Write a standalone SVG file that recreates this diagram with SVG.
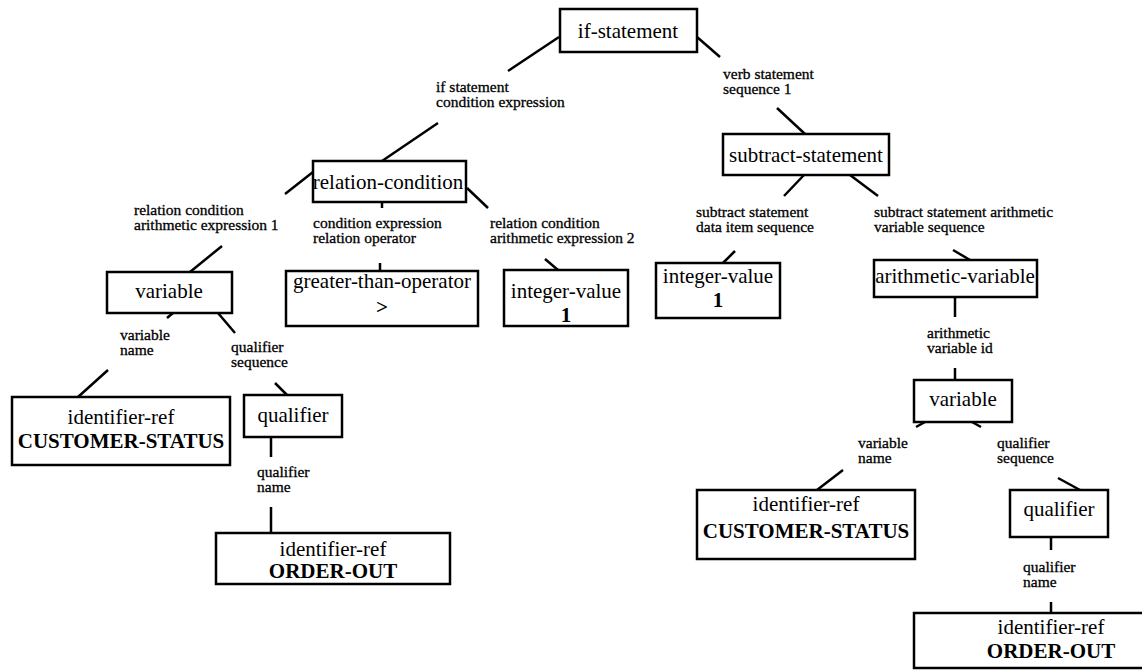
<svg xmlns="http://www.w3.org/2000/svg" width="1142" height="671" viewBox="0 0 1142 671">
<style>
  .box { fill: #fff; stroke: #000; stroke-width: 2.5; }
  .nt { font-family: "Liberation Serif", "Times New Roman", serif; font-size: 21px; text-anchor: middle; fill: #000; }
  .bv { font-weight: bold; }
  .lb { font-family: "Liberation Serif", "Times New Roman", serif; font-size: 15.5px; fill: #000; stroke: #000; stroke-width: 0.3; }
  #connectors line { stroke: #000; stroke-width: 2.5; }
</style>
<rect x="0" y="0" width="1142" height="671" fill="#fff"/>

<g id="connectors">
  <line x1="559" y1="37" x2="508" y2="71"/>
  <line x1="438" y1="123" x2="382" y2="161"/>
  <line x1="697" y1="37" x2="720" y2="57"/>
  <line x1="777" y1="108" x2="805" y2="134"/>
  <line x1="313" y1="172" x2="285" y2="194"/>
  <line x1="222" y1="246" x2="190" y2="272"/>
  <line x1="382" y1="202" x2="382" y2="208"/>
  <line x1="380" y1="263" x2="380" y2="271"/>
  <line x1="467" y1="188" x2="488" y2="208"/>
  <line x1="545" y1="259" x2="558" y2="270"/>
  <line x1="173" y1="313" x2="167" y2="318"/>
  <line x1="218" y1="313" x2="235" y2="333"/>
  <line x1="108" y1="370" x2="78" y2="397"/>
  <line x1="275" y1="383" x2="287" y2="395"/>
  <line x1="271" y1="437" x2="271" y2="457"/>
  <line x1="271" y1="507" x2="271" y2="533"/>
  <line x1="804" y1="175" x2="784" y2="196"/>
  <line x1="850" y1="175" x2="878" y2="196"/>
  <line x1="735" y1="251" x2="723" y2="263"/>
  <line x1="953" y1="250" x2="970" y2="260"/>
  <line x1="955" y1="297" x2="955" y2="317"/>
  <line x1="955" y1="368" x2="955" y2="380"/>
  <line x1="925" y1="422" x2="916" y2="427"/>
  <line x1="972" y1="422" x2="981" y2="427"/>
  <line x1="843" y1="470" x2="817" y2="490"/>
  <line x1="1058" y1="478" x2="1080" y2="490"/>
  <line x1="1051" y1="537" x2="1051" y2="550"/>
  <line x1="1051" y1="602" x2="1051" y2="613"/>
</g>

<g id="labels">
  <text class="lb"><tspan x="436" y="92">if statement</tspan><tspan x="436" y="107">condition expression</tspan></text>
  <text class="lb"><tspan x="723" y="79">verb statement</tspan><tspan x="723" y="94">sequence 1</tspan></text>
  <text class="lb"><tspan x="134" y="215">relation condition</tspan><tspan x="134" y="230">arithmetic expression 1</tspan></text>
  <text class="lb"><tspan x="313" y="228">condition expression</tspan><tspan x="313" y="243">relation operator</tspan></text>
  <text class="lb"><tspan x="490" y="228">relation condition</tspan><tspan x="490" y="243">arithmetic expression 2</tspan></text>
  <text class="lb"><tspan x="696" y="217">subtract statement</tspan><tspan x="696" y="232">data item sequence</tspan></text>
  <text class="lb"><tspan x="874" y="217">subtract statement arithmetic</tspan><tspan x="874" y="232">variable sequence</tspan></text>
  <text class="lb"><tspan x="120" y="340">variable</tspan><tspan x="120" y="355">name</tspan></text>
  <text class="lb"><tspan x="231" y="352">qualifier</tspan><tspan x="231" y="367">sequence</tspan></text>
  <text class="lb"><tspan x="257" y="477">qualifier</tspan><tspan x="257" y="492">name</tspan></text>
  <text class="lb"><tspan x="927" y="338">arithmetic</tspan><tspan x="927" y="353">variable id</tspan></text>
  <text class="lb"><tspan x="858" y="448">variable</tspan><tspan x="858" y="463">name</tspan></text>
  <text class="lb"><tspan x="997" y="448">qualifier</tspan><tspan x="997" y="463">sequence</tspan></text>
  <text class="lb"><tspan x="1023" y="572">qualifier</tspan><tspan x="1023" y="587">name</tspan></text>
</g>

<g id="if-statement">
  <rect class="box" x="560" y="9" width="137" height="43"/>
  <text class="nt" x="628" y="38">if-statement</text>
</g>
<g id="relation-condition">
  <rect class="box" x="313" y="161" width="153" height="41"/>
  <text class="nt" x="388" y="189">relation-condition</text>
</g>
<g id="variable-1">
  <rect class="box" x="107" y="272" width="125" height="41"/>
  <text class="nt" x="169" y="298">variable</text>
</g>
<g id="identifier-ref-1">
  <rect class="box" x="12" y="397" width="218" height="68"/>
  <text class="nt" x="121" y="424">identifier-ref</text>
  <text class="nt bv" x="121" y="448">CUSTOMER-STATUS</text>
</g>
<g id="qualifier-1">
  <rect class="box" x="244" y="395" width="98" height="42"/>
  <text class="nt" x="293" y="422">qualifier</text>
</g>
<g id="identifier-ref-2">
  <rect class="box" x="216" y="533" width="234" height="51"/>
  <text class="nt" x="333" y="556">identifier-ref</text>
  <text class="nt bv" x="333" y="578">ORDER-OUT</text>
</g>
<g id="greater-than-operator">
  <rect class="box" x="286" y="271" width="192" height="55"/>
  <text class="nt" x="382" y="288">greater-than-operator</text>
  <text class="nt bv" x="382" y="314">&gt;</text>
</g>
<g id="integer-value-1">
  <rect class="box" x="504" y="270" width="124" height="56"/>
  <text class="nt" x="566" y="298">integer-value</text>
  <text class="nt bv" x="566" y="322">1</text>
</g>
<g id="subtract-statement">
  <rect class="box" x="723" y="134" width="166" height="41"/>
  <text class="nt" x="806" y="162">subtract-statement</text>
</g>
<g id="integer-value-2">
  <rect class="box" x="656" y="263" width="124" height="55"/>
  <text class="nt" x="718" y="283">integer-value</text>
  <text class="nt bv" x="718" y="307">1</text>
</g>
<g id="arithmetic-variable">
  <rect class="box" x="874" y="260" width="163" height="37"/>
  <text class="nt" x="955" y="283">arithmetic-variable</text>
</g>
<g id="variable-2">
  <rect class="box" x="914" y="380" width="98" height="42"/>
  <text class="nt" x="963" y="406">variable</text>
</g>
<g id="identifier-ref-3">
  <rect class="box" x="697" y="490" width="218" height="69"/>
  <text class="nt" x="806" y="511">identifier-ref</text>
  <text class="nt bv" x="806" y="538">CUSTOMER-STATUS</text>
</g>
<g id="qualifier-2">
  <rect class="box" x="1010" y="490" width="98" height="47"/>
  <text class="nt" x="1059" y="516">qualifier</text>
</g>
<g id="identifier-ref-4">
  <rect class="box" x="914" y="613" width="234" height="55"/>
  <text class="nt" x="1051" y="634">identifier-ref</text>
  <text class="nt bv" x="1051" y="658">ORDER-OUT</text>
</g>
</svg>
